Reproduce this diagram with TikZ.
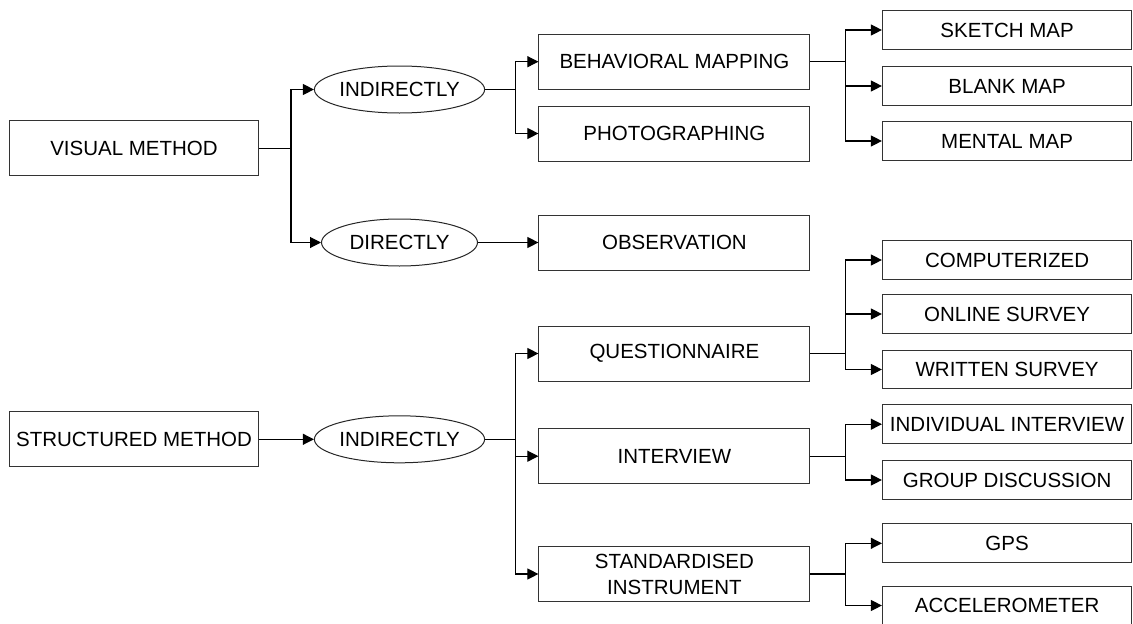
\documentclass[tikz,border=0pt]{standalone}
\usepackage{fontspec}
\setmainfont{Liberation Sans}
\usetikzlibrary{shapes.geometric,arrows.meta}

\begin{document}
\begin{tikzpicture}[x=1pt, y=-1pt,
    every node/.style={font=\fontsize{20.5}{26}\selectfont, inner sep=0pt, align=center},
    mbox/.style={draw=black!80, line width=1pt, minimum width=249pt, minimum height=55pt},
    sbox/.style={draw=black!80, line width=1pt, minimum width=271pt, minimum height=55pt},
    leaf/.style={draw=black!80, line width=1pt, minimum width=249.4pt, minimum height=38.7pt},
    oval/.style={draw=black!85, line width=1pt, ellipse, minimum width=156pt, minimum height=47pt},
    link/.style={line width=1.1pt},
    arr/.style={link, -{Triangle[length=11pt,width=11pt]}}]
    \useasboundingbox (0,0) rectangle (1133,624);

    \node[mbox] (visual) at (134, 148.3) {VISUAL METHOD};
    \node[mbox] (structured) at (134, 439.3) {STRUCTURED METHOD};

    \node[oval] (indirect1) at (399.5, 89.5) {INDIRECTLY};
    \node[oval] (direct) at (399.5, 242.5) {DIRECTLY};
    \node[oval] (indirect2) at (399.5, 439.3) {INDIRECTLY};

    \node[sbox] (behav) at (674.4, 61.7) {BEHAVIORAL MAPPING};
    \node[sbox] (photo) at (674.4, 133.5) {PHOTOGRAPHING};
    \node[sbox] (observ) at (674.4, 242.5) {OBSERVATION};
    \node[sbox] (quest) at (674.4, 353.5) {QUESTIONNAIRE};
    \node[sbox] (interv) at (674.4, 456.2) {INTERVIEW};
    \node[sbox] (instr) at (674.4, 574) {STANDARDISED\\INSTRUMENT};

    \node[leaf] (sketch) at (1007.1, 30) {SKETCH MAP};
    \node[leaf] (blank) at (1007.1, 86) {BLANK MAP};
    \node[leaf] (mental) at (1007.1, 141) {MENTAL MAP};
    \node[leaf] (comput) at (1007.1, 260) {COMPUTERIZED};
    \node[leaf] (online) at (1007.1, 314) {ONLINE SURVEY};
    \node[leaf] (written) at (1007.1, 369.5) {WRITTEN SURVEY};
    \node[leaf] (indiv) at (1007.1, 424.2) {INDIVIDUAL INTERVIEW};
    \node[leaf] (group) at (1007.1, 480) {GROUP DISCUSSION};
    \node[leaf] (gps) at (1007.1, 543.3) {GPS};
    \node[leaf] (accel) at (1007.1, 605.5) {ACCELEROMETER};

    \draw[link] (visual.east) -- ++(32,0) coordinate (jv);
    \draw[arr] (jv) |- (indirect1);
    \draw[arr] (jv) |- (direct);
    \draw[arr] (structured) -- (indirect2);
    \draw[arr] (direct) -- (observ);

    \draw[link] (indirect1.east) -- ++(30.4,0) coordinate (ji);
    \foreach \t in {behav, photo} \draw[arr] (ji) |- (\t);
    \draw[link] (indirect2.east) -- ++(30.4,0) coordinate (js);
    \foreach \t in {quest, interv, instr} \draw[arr] (js) |- (\t);

    \draw[link] (behav.east) -- ++(35.5,0) coordinate (jb);
    \foreach \t in {sketch, blank, mental} \draw[arr] (jb) |- (\t);
    \draw[link] (quest.east) -- ++(35.5,0) coordinate (jq);
    \foreach \t in {comput, online, written} \draw[arr] (jq) |- (\t);
    \draw[link] (interv.east) -- ++(35.5,0) coordinate (jn);
    \foreach \t in {indiv, group} \draw[arr] (jn) |- (\t);
    \draw[link] (instr.east) -- ++(35.5,0) coordinate (jt);
    \foreach \t in {gps, accel} \draw[arr] (jt) |- (\t);
\end{tikzpicture}
\end{document}
